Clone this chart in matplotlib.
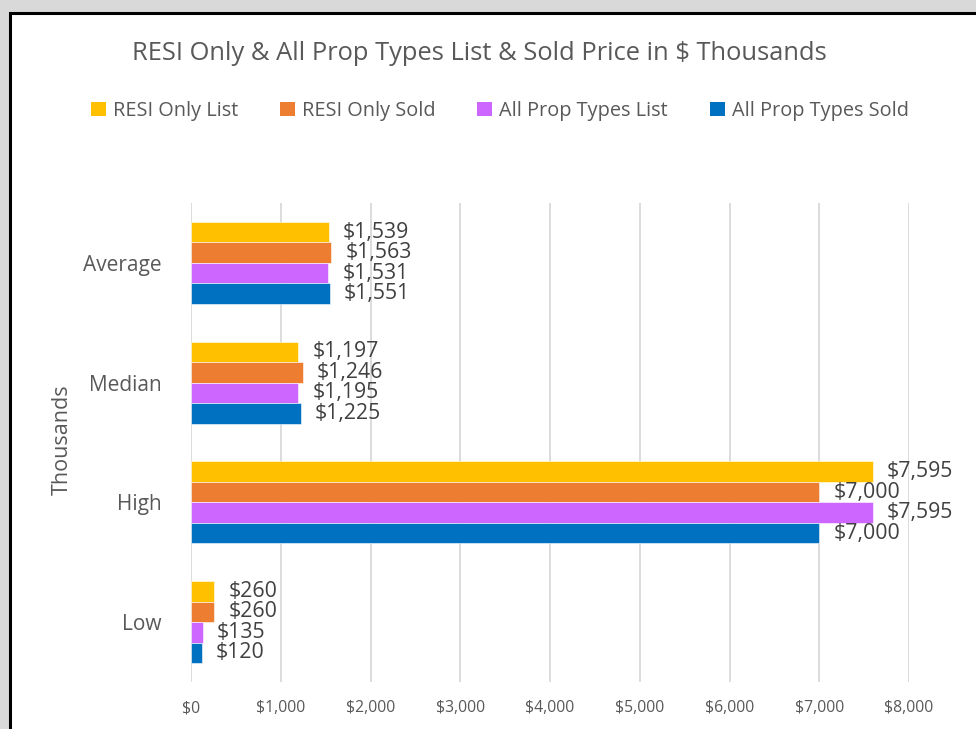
import numpy as np
import matplotlib
matplotlib.use("Agg")
import matplotlib.pyplot as plt
from matplotlib.patches import Rectangle, Patch

# Chart data
categories = ["Average", "Median", "High", "Low"]
series_names = ["RESI Only List", "RESI Only Sold", "All Prop Types List", "All Prop Types Sold"]
resi_list = [1539, 1197, 7595, 260]
resi_sold = [1563, 1246, 7000, 260]
all_list = [1531, 1195, 7595, 135]
all_sold = [1551, 1225, 7000, 120]
x_ticks = [0, 1000, 2000, 3000, 4000, 5000, 6000, 7000, 8000]

colors = ["#FFC000", "#ED7D31", "#CC66FF", "#0070C0"]
text_color = "#595959"

plt.rcParams['font.family'] = ['Open Sans', 'DejaVu Sans']

fig = plt.figure(figsize=(9.76, 7.29), dpi=100)
fig.patch.set_facecolor("#D9D9D9")

# white chart panel with black frame
fig.patches.append(Rectangle((9.5 / 976, -0.1), 1.2, 1 - 12.5 / 729 + 0.1,
                             transform=fig.transFigure, facecolor="white",
                             edgecolor="black", linewidth=2.2, zorder=-5))

ax = fig.add_axes([191 / 976, 1 - 682 / 729, (909 - 191) / 976, (682 - 203) / 729])
ax.set_zorder(2)
ax.set_facecolor("none")

all_series = [resi_list, resi_sold, all_list, all_sold]
y = np.arange(len(categories))
bar_h = 0.171
offsets = [-1.5, -0.5, 0.5, 1.5]

for vals, col, off, name in zip(all_series, colors, offsets, series_names):
    ypos = y + off * bar_h
    ax.barh(ypos, vals, height=bar_h, color=col, edgecolor="white",
            linewidth=0.4, label=name, zorder=2)
    for v, yp in zip(vals, ypos):
        ax.annotate(f"${v:,}", (v, yp), xytext=(10, 0), textcoords="offset points",
                    ha="left", va="center", fontsize=15.3, color="#404040", zorder=3)

ax.set_xlim(0, 8000)
ax.set_ylim(len(categories) - 0.5, -0.5)
ax.set_xticks(x_ticks)
ax.set_xticklabels([f"${t:,}" for t in x_ticks], fontsize=11.3, color=text_color)
ax.set_yticks(y)
ax.set_yticklabels(categories, fontsize=15, color=text_color)
ax.tick_params(axis="both", length=0)
ax.tick_params(axis="y", pad=21)
ax.tick_params(axis="x", pad=13)
ax.grid(axis="x", color="#D9D9D9", linewidth=1.3, zorder=0)
for s in ax.spines.values():
    s.set_visible(False)

fig.text(62 / 976, 1 - 440 / 729, "Thousands", rotation=90, ha="center", va="center",
         fontsize=15.5, color=text_color)

fig.text(479 / 976, 1 - 53 / 729, "RESI Only & All Prop Types List & Sold Price in $ Thousands",
         ha="center", va="center", fontsize=18.4, color=text_color)

handles = [Patch(facecolor=c, edgecolor="none") for c in colors]
fig.legend(handles, series_names, loc="center", bbox_to_anchor=(500 / 976, 1 - 111 / 729),
           ncol=4, frameon=False, fontsize=14.3, labelcolor=text_color,
           handlelength=0.75, handleheight=0.75, handletextpad=0.35, columnspacing=2.1)

fig.savefig("out.png", dpi=100, facecolor=fig.get_facecolor())
